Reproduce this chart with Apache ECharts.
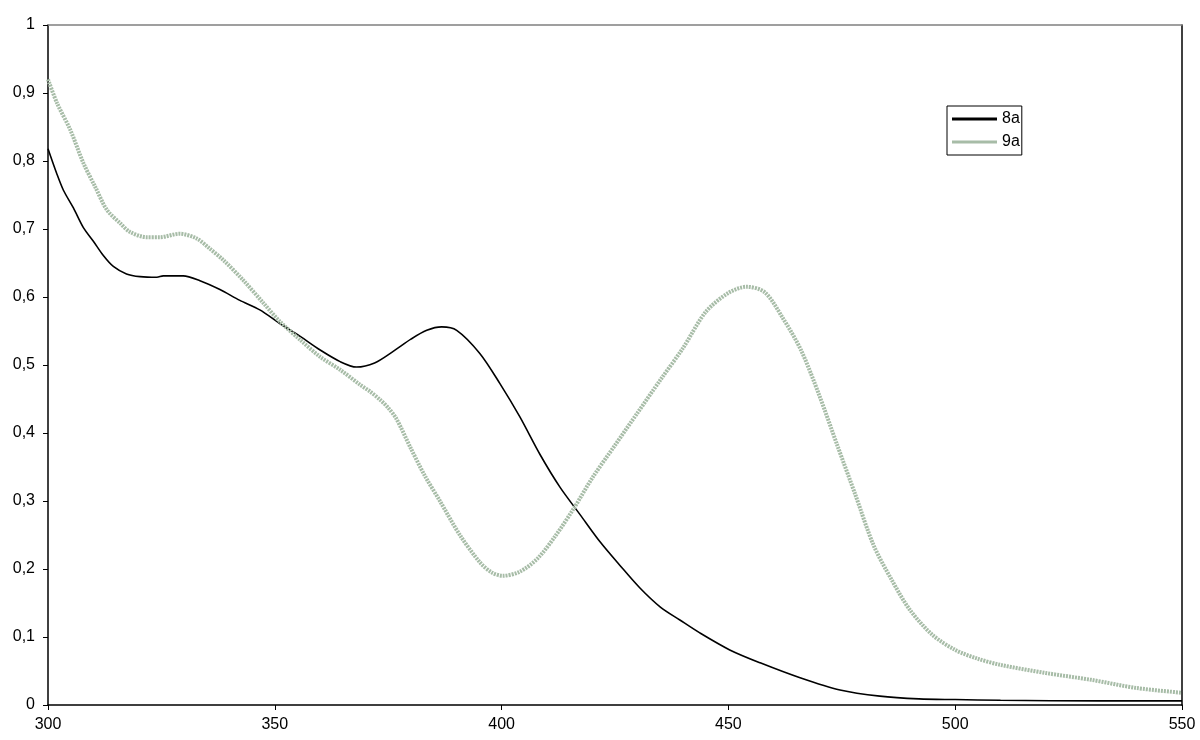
<!DOCTYPE html>
<html>
<head>
<meta charset="utf-8">
<script src="https://cdn.jsdelivr.net/npm/echarts@6/dist/echarts.min.js"></script>
<style>
html,body{margin:0;padding:0;background:#fff;}
#chart{width:1200px;height:740px;}
</style>
</head>
<body>
<div id="chart"></div>
<script>
// Wavelength (nm) and absorbance for 8a
const x8a = [300,301.9,303.4,305.6,307.8,310,312.2,314.4,317.3,320.3,324,325.4,329.8,333.5,337.9,342.3,346.7,351.1,355.6,360,364.4,368,372,376.1,380,383.5,386.8,390.1,395.2,399.6,404,408.5,412.9,417.3,421.7,426,430.5,435,439.3,443.7,450.3,457,465.8,474.6,483.4,492,500,510,532,550];
const y8a = [0.818,0.782,0.757,0.731,0.702,0.682,0.661,0.645,0.634,0.630,0.629,0.631,0.631,0.624,0.611,0.595,0.581,0.561,0.542,0.522,0.505,0.497,0.503,0.520,0.538,0.551,0.556,0.551,0.517,0.473,0.424,0.368,0.32,0.28,0.24,0.206,0.172,0.144,0.125,0.106,0.081,0.062,0.040,0.022,0.013,0.009,0.008,0.007,0.006,0.006];
// Wavelength (nm) and absorbance for 9a
const x9a = [300,302,304.9,307.8,310.4,313,316,318,321.7,324.7,329,332.8,335.5,338.7,343,347.5,351.1,355.6,360,364.4,368.8,371,373.2,375,376.8,379.8,383,386.4,390.8,395.2,397.8,400.2,404,408,412,416,420,425,430,435,440,445,450,454,458,462,466,470,474,478,482,486,490,495,500,505,510,520,530,540,550];
const y9a = [0.92,0.885,0.846,0.797,0.762,0.728,0.708,0.696,0.688,0.688,0.693,0.686,0.672,0.654,0.625,0.591,0.564,0.537,0.512,0.493,0.471,0.461,0.449,0.437,0.421,0.38,0.338,0.30,0.25,0.21,0.195,0.19,0.196,0.216,0.25,0.29,0.334,0.382,0.43,0.478,0.525,0.578,0.606,0.615,0.607,0.569,0.522,0.456,0.382,0.309,0.235,0.184,0.14,0.103,0.081,0.068,0.059,0.047,0.037,0.025,0.018];
const seriesNames = ['8a','9a'];

const pairs = (xs, ys) => xs.map((v,i)=>[v, ys[i]]);
const font = 'Liberation Sans, Arial, sans-serif';
const green = '#a7bca7';

const chart = echarts.init(document.getElementById('chart'));
chart.setOption({
  animation:false,
  backgroundColor:'#fff',
  grid:{left:48,right:18,top:25,bottom:35,containLabel:false},
  legend:{
    orient:'vertical', left:947, top:106,
    data:[
      {name:seriesNames[0], icon:'rect', itemStyle:{color:'#000'}},
      {name:seriesNames[1], icon:'rect', itemStyle:{color:green}}
    ],
    borderColor:'#000', borderWidth:1, borderRadius:0,
    padding:[5,2,5,5], itemGap:7, itemWidth:45, itemHeight:3,
    textStyle:{color:'#000',fontSize:16,fontFamily:font}
  },
  xAxis:[{
    type:'value', min:300, max:550, interval:50, position:'bottom',
    axisLine:{show:true,onZero:false,lineStyle:{color:'#000',width:1.5}},
    axisTick:{show:true,length:5,lineStyle:{color:'#000'}},
    axisLabel:{color:'#000',fontSize:16,fontFamily:font,margin:12},
    splitLine:{show:false}
  },{
    type:'value', min:300, max:550, position:'top',
    axisLine:{show:true,onZero:false,lineStyle:{color:'#808080',width:1.5}},
    axisTick:{show:false}, axisLabel:{show:false}, splitLine:{show:false}
  }],
  yAxis:[{
    type:'value', min:0, max:1, interval:0.1, position:'left',
    axisLine:{show:true,onZero:false,lineStyle:{color:'#000',width:1.5}},
    axisTick:{show:true,length:5,lineStyle:{color:'#000'}},
    axisLabel:{color:'#000',fontSize:16,fontFamily:font,margin:13,
      formatter:v=>String(Math.round(v*10)/10).replace('.',',')},
    splitLine:{show:false}
  },{
    type:'value', min:0, max:1, position:'right',
    axisLine:{show:true,onZero:false,lineStyle:{color:'#000',width:1.5}},
    axisTick:{show:false}, axisLabel:{show:false}, splitLine:{show:false}
  }],
  series:[{
    name:seriesNames[0], type:'line', data:pairs(x8a,y8a),
    showSymbol:false, symbol:'none', smooth:0.3,
    lineStyle:{color:'#000',width:1.6}, itemStyle:{color:'#000'}
  },{
    name:seriesNames[1], type:'line', data:pairs(x9a,y9a),
    showSymbol:false, symbol:'none', smooth:0.3,
    lineStyle:{color:green,width:4,type:[2,1]}, itemStyle:{color:green}
  }]
});
</script>
</body>
</html>
